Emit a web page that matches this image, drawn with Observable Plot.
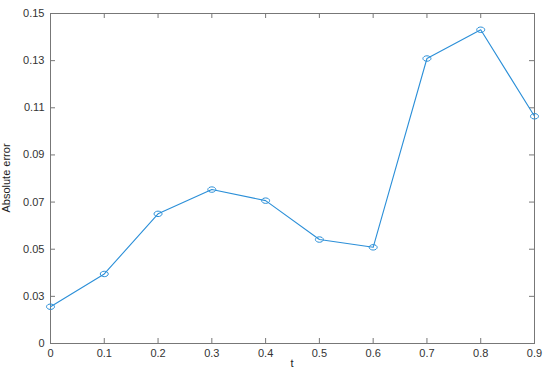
<!DOCTYPE html>
<html>
<head>
<meta charset="utf-8">
<script src="https://cdn.jsdelivr.net/npm/d3@7"></script>
<script src="https://cdn.jsdelivr.net/npm/@observablehq/plot@0.6"></script>
<style>
  html, body { margin: 0; padding: 0; background: #fff; }
  #chart svg { display: block; }
</style>
</head>
<body>
<div id="chart"></div>
<script>
const tValues = [0, 0.1, 0.2, 0.3, 0.4, 0.5, 0.6, 0.7, 0.8, 0.9];
const errorValues = [0.0256, 0.0395, 0.0650, 0.0753, 0.0706, 0.0541, 0.0508, 0.1309, 0.1431, 0.1064];
const xTicks = [0, 0.1, 0.2, 0.3, 0.4, 0.5, 0.6, 0.7, 0.8, 0.9];
const xTickLabels = ["0", "0.1", "0.2", "0.3", "0.4", "0.5", "0.6", "0.7", "0.8", "0.9"];
const yTicks = [0.01, 0.03, 0.05, 0.07, 0.09, 0.11, 0.13, 0.15];
const yTickLabels = ["0", "0.03", "0.05", "0.07", "0.09", "0.11", "0.13", "0.15"];

const data = tValues.map((t, i) => ({t, e: errorValues[i]}));

const W = 550, H = 373;
const mTop = 13, mBottom = 30, mLeft = 50, mRight = 16;
const innerH = H - mTop - mBottom;
const innerW = W - mLeft - mRight;
const tickLen = 5;
const blue = "#2b8fd8";
const axisColor = "#777";

const ellipse = {
  draw(ctx, size) {
    const r = Math.sqrt(size / Math.PI);
    const rx = r, ry = r * 0.68, k = 0.5523;
    ctx.moveTo(rx, 0);
    ctx.bezierCurveTo(rx, ry * k, rx * k, ry, 0, ry);
    ctx.bezierCurveTo(-rx * k, ry, -rx, ry * k, -rx, 0);
    ctx.bezierCurveTo(-rx, -ry * k, -rx * k, -ry, 0, -ry);
    ctx.bezierCurveTo(rx * k, -ry, rx, -ry * k, rx, 0);
    ctx.closePath();
  }
};

const chart = Plot.plot({
  width: W,
  height: H,
  marginTop: mTop,
  marginBottom: mBottom,
  marginLeft: mLeft,
  marginRight: mRight,
  style: {fontFamily: "'Liberation Sans', Arial, Helvetica, sans-serif", fontSize: "11px", color: "#333", background: "#fff"},
  x: {domain: [0, 0.9]},
  y: {domain: [0.01, 0.15]},
  marks: [
    Plot.frame({stroke: axisColor}),
    Plot.axisX(xTicks, {tickSize: 0, tickPadding: 6, tickFormat: (d, i) => xTickLabels[i], label: null, fill: "#333"}),
    Plot.axisY(yTicks, {tickSize: 0, tickPadding: 6, tickFormat: (d, i) => yTickLabels[i], label: null, fill: "#333"}),
    Plot.tickX(xTicks, {x: d => d, stroke: axisColor, insetTop: innerH - tickLen}),
    Plot.tickX(xTicks, {x: d => d, stroke: axisColor, insetBottom: innerH - tickLen}),
    Plot.tickY(yTicks, {y: d => d, stroke: axisColor, insetRight: innerW - tickLen}),
    Plot.tickY(yTicks, {y: d => d, stroke: axisColor, insetLeft: innerW - tickLen}),
    Plot.line(data, {x: "t", y: "e", stroke: blue, strokeWidth: 1.1}),
    Plot.dot(data, {x: "t", y: "e", stroke: blue, fill: "none", strokeWidth: 1, r: 4, symbol: ellipse})
  ]
});

const svg = d3.select(chart);
svg.append("text")
  .attr("x", mLeft + innerW / 2)
  .attr("y", H - 6)
  .attr("text-anchor", "middle")
  .attr("fill", "#222")
  .attr("font-size", 11)
  .text("t");
svg.append("text")
  .attr("transform", `translate(10, ${mTop + innerH / 2}) rotate(-90)`)
  .attr("text-anchor", "middle")
  .attr("fill", "#222")
  .attr("font-size", 11)
  .attr("font-family", "'Liberation Sans Narrow', 'Liberation Sans', Arial, sans-serif")
  .text("Absolute error");

document.getElementById("chart").appendChild(chart);
</script>
</body>
</html>
